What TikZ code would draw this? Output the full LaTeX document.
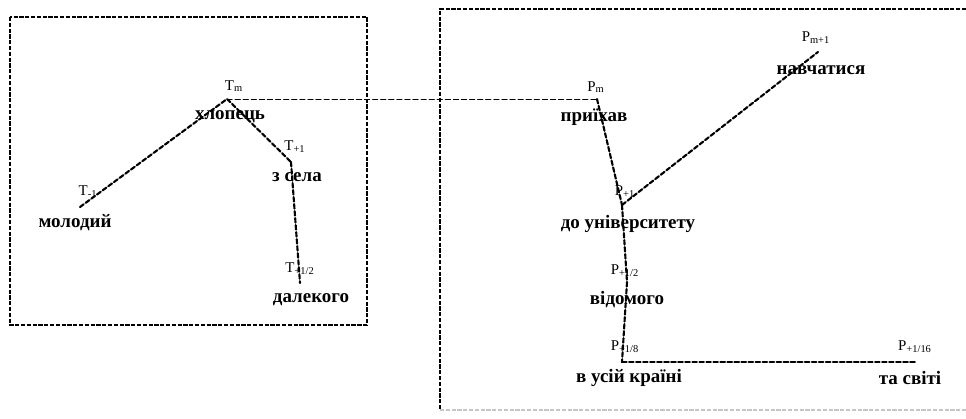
\documentclass[tikz,border=0pt]{standalone}
\usepackage{fontspec}
\setmainfont{Liberation Serif}
\usepackage{tkz-euclide}

\tikzset{
  seg/.style={line width=1.2pt,dash pattern=on 2.6pt off 1.4pt},
  link/.style={line width=0.5pt,dash pattern=on 3pt off 1.6pt},
  frame/.style={line width=1.4pt,dash pattern=on 2.4pt off 0.9pt},
  word/.style={font=\fontsize{10.8}{12}\selectfont\bfseries,inner sep=1pt},
  tag/.style={font=\fontsize{8.5}{10}\selectfont,inner sep=1pt}
}

\begin{document}
\begin{tikzpicture}
    \useasboundingbox (0,0) rectangle (19.32,8.36);
    % frames
    \draw[frame] (0.20,8.02) rectangle (7.34,1.86);
    \draw[frame] (19.32,8.18) -- (8.80,8.18) -- (8.80,0.16);
    \draw[frame,gray!45] (8.80,0.16) -- (19.32,0.16);
    % left tree
    \tkzDefPoint(4.54,6.38){Tm}
    \tkzDefPoint(1.60,4.22){Tl}
    \tkzDefPoint(5.82,5.12){Tr}
    \tkzDefPoint(6.00,2.70){Th}
    % right tree
    \tkzDefPoint(11.94,6.38){Pm}
    \tkzDefPoint(12.44,4.26){Pa}
    \tkzDefPoint(16.36,7.32){Pb}
    \tkzDefPoint(12.54,2.72){Pc}
    \tkzDefPoint(12.44,1.12){Pd}
    \tkzDefPoint(18.30,1.12){Pe}
    \tkzDrawSegments[seg](Tl,Tm Tm,Tr Tr,Th)
    \tkzDrawSegments[seg](Pm,Pa Pa,Pb Pa,Pc Pc,Pd Pd,Pe)
    \tkzDrawSegment[link](Tm,Pm)
    % labels
    \node[tag]  (tTm) at (4.68,6.64) {T\textsubscript{m}};
    \node[word] (wTm) at (4.60,6.02) {хлопець};
    \node[tag]  (tTl) at (1.76,4.52) {T\textsubscript{-1}};
    \node[word] (wTl) at (1.50,3.90) {молодий};
    \node[tag]  (tTr) at (5.90,5.42) {T\textsubscript{+1}};
    \node[word] (wTr) at (5.94,4.82) {з села};
    \node[tag]  (tTh) at (6.00,2.98) {T\textsubscript{+1/2}};
    \node[word] (wTh) at (6.22,2.36) {далекого};
    \node[tag]  (tPm) at (11.92,6.62) {P\textsubscript{m}};
    \node[word] (wPm) at (11.88,6.02) {приїхав};
    \node[tag]  (tPb) at (16.32,7.60) {P\textsubscript{m+1}};
    \node[word] (wPb) at (16.42,6.96) {навчатися};
    \node[tag]  (tPa) at (12.50,4.52) {P\textsubscript{+1}};
    \node[word] (wPa) at (12.56,3.88) {до університету};
    \node[tag]  (tPc) at (12.50,2.94) {P\textsubscript{+1/2}};
    \node[word] (wPc) at (12.54,2.36) {відомого};
    \node[tag]  (tPd) at (12.50,1.42) {P\textsubscript{+1/8}};
    \node[word] (wPd) at (12.58,0.80) {в усій країні};
    \node[tag]  (tPe) at (18.30,1.42) {P\textsubscript{+1/16}};
    \node[word] (wPe) at (18.20,0.80) {та світі};
  \end{tikzpicture}
\end{document}
